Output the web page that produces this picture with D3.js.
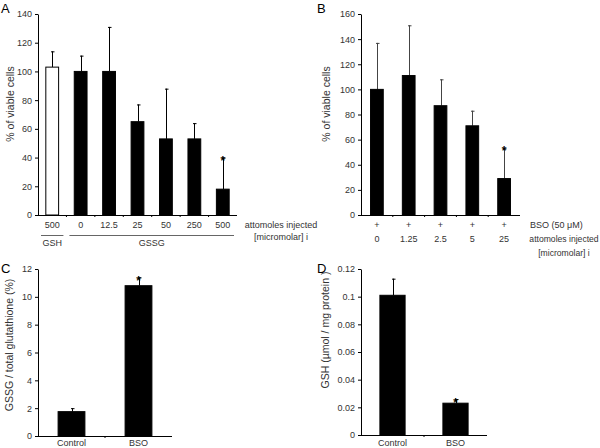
<!DOCTYPE html>
<html><head><meta charset="utf-8">
<script src="https://cdn.jsdelivr.net/npm/d3@7"></script>
<style>body{margin:0;background:#fff;} svg{display:block;font-family:"Liberation Sans",Arial,sans-serif;}</style>
</head><body>
<svg id="c" width="600" height="448"></svg>
<script>
// Panel A
const aLabels = ["500","0","12.5","25","50","250","500"];
const aValues = [103,100,100,65,53,53,18];
const aErr = [11,11,31,12,35,11,22];
const aFill = ["white","black","black","black","black","black","black"];
const aSig = [false,false,false,false,false,false,true];
const aTicks = [0,20,40,60,80,100,120,140];
// Panel B
const bPlus = ["+","+","+","+","+"];
const bLabels = ["0","1.25","2.5","5","25"];
const bValues = [100,111,87,71,29];
const bErr = [37,40,21,12,24];
const bSig = [false,false,false,false,true];
const bTicks = [0,20,40,60,80,100,120,140,160];
// Panel C
const cLabels = ["Control","BSO"];
const cValues = [1.75,10.8];
const cErr = [0.25,0.6];
const cSig = [false,true];
const cTicks = [0,2,4,6,8,10,12];
// Panel D
const dLabels = ["Control","BSO"];
const dValues = [0.101,0.023];
const dErr = [0.012,0.003];
const dSig = [false,true];
const dTicks = [0,0.02,0.04,0.06,0.08,0.1,0.12];
const dTickLabels = ["0","0.02","0.04","0.06","0.08","0.1","0.12"];

const svg = d3.select("#c");

function panel(o){
  const g = svg.append("g");
  const x = d3.scaleBand().domain(d3.range(o.values.length)).range(o.xr).paddingInner(o.pad).paddingOuter(o.pad/2);
  const y = d3.scaleLinear().domain(o.yd).range(o.yr);
  const ya = d3.axisLeft(y).tickValues(o.ticks).tickSize(3).tickSizeOuter(0)
    .tickFormat((d,i)=> o.tickLabels ? o.tickLabels[i] : d);
  const yg = g.append("g").attr("transform",`translate(${o.xr[0]},0)`).call(ya);
  yg.selectAll("text").attr("font-size",9).attr("fill","#333").attr("font-family","Liberation Sans, Arial");
  yg.selectAll("line,path").attr("stroke","#000");
  g.append("line").attr("x1",o.xr[0]).attr("x2",o.xr[1]).attr("y1",o.yr[0]+0.5).attr("y2",o.yr[0]+0.5).attr("stroke","#000");
  const step = x.step();
  g.selectAll(".bt").data(d3.range(1,o.values.length)).join("line")
    .attr("x1",i=>x(i)-(step*o.pad)/2).attr("x2",i=>x(i)-(step*o.pad)/2)
    .attr("y1",o.yr[0]).attr("y2",o.yr[0]+2).attr("stroke","#000");
  const ec = o.errColor || "#000";
  o.values.forEach((v,i)=>{
    const cx = Math.round(x(i)+x.bandwidth()/2)+0.5;
    g.append("line").attr("x1",cx).attr("x2",cx).attr("y1",y(v)).attr("y2",y(v+o.err[i])).attr("stroke",ec);
    g.append("line").attr("x1",cx-1.5).attr("x2",cx+2).attr("y1",y(v+o.err[i])+0.5).attr("y2",y(v+o.err[i])+0.5).attr("stroke",ec);
  });
  g.selectAll(".bar").data(o.values).join("rect")
    .attr("x",(d,i)=>x(i)).attr("width",x.bandwidth())
    .attr("y",d=>y(d)).attr("height",d=>y(0)-y(d))
    .attr("fill",(d,i)=>o.fill? o.fill[i] : "black").attr("stroke","#000").attr("stroke-width",1);
  o.values.forEach((v,i)=>{
    if(o.sig[i]) g.append("text").attr("x",x(i)+x.bandwidth()/2).attr("y",y(v+o.err[i])+ (o.starDy||7))
      .attr("text-anchor","middle").attr("font-size",12).attr("font-weight","bold").text("*");
  });
  g.append("text").attr("transform",`translate(${o.ylx},${o.yly}) rotate(-90)`).attr("text-anchor","middle")
    .attr("font-size",o.ylfs||10.5).attr("fill","#333").text(o.ylabel);
  return {x,y,g};
}

const A = panel({values:aValues,err:aErr,fill:aFill,sig:aSig,ticks:aTicks,xr:[38,237],pad:0.55,yd:[0,140],yr:[215,14],
  ylabel:"% of viable cells",ylx:14,yly:104});
A.g.selectAll(".xl").data(aLabels).join("text").attr("x",(d,i)=>A.x(i)+A.x.bandwidth()/2).attr("y",228)
  .attr("text-anchor","middle").attr("font-size",9).attr("fill","#333").text(d=>d);
const groups = [{name:"GSH",from:0,to:0},{name:"GSSG",from:1,to:6}];
groups.forEach(gr=>{
  const st = A.x.step(), pd = st*0.55/2;
  const x0 = A.x(gr.from)-pd+3, x1 = A.x(gr.to)+A.x.bandwidth()+pd-3;
  A.g.append("line").attr("x1",x0).attr("x2",x1).attr("y1",235.5).attr("y2",235.5).attr("stroke","#666");
  A.g.append("text").attr("x",(x0+x1)/2).attr("y",246).attr("text-anchor","middle").attr("font-size",9).attr("fill","#333").text(gr.name);
});
A.g.append("text").attr("x",281).attr("y",228).attr("text-anchor","middle").attr("font-size",9).attr("fill","#333").text("attomoles injected");
A.g.append("text").attr("x",281).attr("y",240).attr("text-anchor","middle").attr("font-size",9).attr("fill","#333").text("[micromolar] i");

const B = panel({values:bValues,err:bErr,sig:bSig,ticks:bTicks,xr:[361,520],pad:0.6,yd:[0,160],yr:[215,14],
  ylabel:"% of viable cells",ylx:330,yly:104,errColor:"#444"});
B.g.selectAll(".pl").data(bPlus).join("text").attr("x",(d,i)=>B.x(i)+B.x.bandwidth()/2).attr("y",228)
  .attr("text-anchor","middle").attr("font-size",9).attr("fill","#333").text(d=>d);
B.g.selectAll(".xl").data(bLabels).join("text").attr("x",(d,i)=>B.x(i)+B.x.bandwidth()/2).attr("y",242)
  .attr("text-anchor","middle").attr("font-size",9).attr("fill","#333").text(d=>d);
B.g.append("text").attr("x",530).attr("y",228).attr("font-size",9).attr("fill","#333").text("BSO (50 μM)");
B.g.append("text").attr("x",564).attr("y",242).attr("text-anchor","middle").attr("font-size",8.6).attr("fill","#333").text("attomoles injected");
B.g.append("text").attr("x",564).attr("y",256).attr("text-anchor","middle").attr("font-size",8.6).attr("fill","#333").text("[micromolar] i");

const C = panel({values:cValues,err:cErr,sig:cSig,ticks:cTicks,xr:[38,172],pad:0.6,yd:[0,12],yr:[436,269],
  ylabel:"GSSG / total glutathione (%)",ylx:13,yly:345,ylfs:10.5,starDy:8});
C.g.selectAll(".xl").data(cLabels).join("text").attr("x",(d,i)=>C.x(i)+C.x.bandwidth()/2).attr("y",446)
  .attr("text-anchor","middle").attr("font-size",9).attr("fill","#333").text(d=>d);

const D = panel({values:dValues,err:dErr,sig:dSig,ticks:dTicks,tickLabels:dTickLabels,xr:[361,487],pad:0.6,yd:[0,0.12],yr:[435,269],
  ylabel:"GSH (µmol / mg protein )",ylx:329,yly:330,ylfs:10.5,starDy:8});
D.g.selectAll(".xl").data(dLabels).join("text").attr("x",(d,i)=>D.x(i)+D.x.bandwidth()/2).attr("y",446)
  .attr("text-anchor","middle").attr("font-size",9).attr("fill","#333").text(d=>d);

const letters = [{t:"A",x:1,y:13},{t:"B",x:317,y:13},{t:"C",x:1,y:273},{t:"D",x:317,y:273}];
svg.selectAll(".pl2").data(letters).join("text").attr("x",d=>d.x).attr("y",d=>d.y).attr("font-size",13).text(d=>d.t);
</script>
</body></html>
